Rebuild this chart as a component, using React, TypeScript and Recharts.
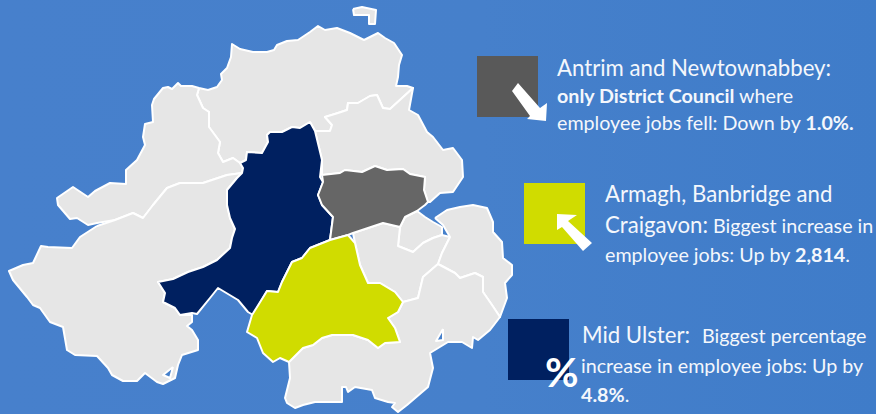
import React from 'react';
import { ScatterChart, Scatter, XAxis, YAxis } from 'recharts';

type Pt = [number, number];

// outlines, in picture units
const causeway: Pt[] = [[199,88],[208,90],[217,87],[222,80],[221,74],[227,68],[231,57],[232,44],[240,49],[253,52],[267,52],[274,50],[277,45],[287,41],[298,40],[310,32],[318,26],[325,30],[337,28],[350,33],[364,40],[378,33],[385,38],[394,43],[402,55],[399,65],[398,77],[396,86],[407,86],[413,88],[390,109],[383,108],[377,95],[370,96],[358,103],[348,103],[347,110],[338,113],[325,117],[332,125],[330,131],[315,131],[310,122],[300,128],[292,127],[282,132],[270,132],[267,135],[268,142],[262,153],[247,152],[246,160],[240,163],[233,158],[223,162],[218,153],[220,142],[209,127],[209,112],[203,108],[197,95]];
const derry: Pt[] = [[199,88],[192,86],[185,86],[181,86],[178,83],[175,86],[172,89],[168,87],[163,88],[154,99],[152,105],[153,122],[145,124],[143,137],[145,145],[137,160],[126,170],[126,184],[110,183],[95,191],[88,197],[73,187],[57,198],[58,205],[70,219],[77,218],[88,225],[97,223],[115,220],[133,213],[143,218],[153,205],[167,188],[180,183],[203,183],[227,175],[242,173],[243,168],[240,163],[233,158],[223,162],[218,153],[220,142],[209,127],[209,112],[203,108],[197,95]];
const fermanagh: Pt[] = [[97,226],[80,237],[72,248],[48,247],[41,246],[33,263],[23,265],[9,271],[13,280],[27,297],[33,305],[40,308],[50,322],[63,327],[67,350],[75,355],[97,356],[108,368],[112,375],[123,381],[137,381],[145,373],[157,382],[163,384],[175,378],[178,365],[182,355],[198,350],[198,340],[192,330],[187,326],[192,322],[192,315],[180,315],[175,308],[163,302],[165,293],[158,282],[173,279],[188,272],[203,267],[217,260],[230,248],[232,238],[235,229],[230,218],[227,205],[227,190],[237,178],[242,173],[227,175],[203,183],[180,183],[167,188],[153,205],[143,218],[133,213],[115,220]];
const midUlster: Pt[] = [[310,122],[315,131],[322,160],[320,177],[323,182],[318,195],[322,205],[333,217],[330,240],[310,248],[302,258],[292,262],[282,282],[278,292],[267,291],[253,315],[248,312],[238,300],[218,288],[210,298],[197,314],[192,313],[180,315],[175,308],[163,302],[165,293],[158,282],[173,279],[188,272],[203,267],[217,260],[230,248],[232,238],[235,229],[230,218],[227,205],[227,190],[237,178],[242,173],[243,168],[240,163],[246,160],[247,152],[262,153],[268,142],[267,135],[270,132],[282,132],[292,127],[300,128]];
const antrim: Pt[] = [[322,175],[340,173],[345,170],[362,172],[375,166],[387,170],[403,169],[410,174],[425,177],[424,190],[428,202],[425,205],[417,211],[405,217],[400,227],[383,223],[353,233],[348,235],[330,240],[333,217],[322,205],[318,195],[323,182]];
const midEast: Pt[] = [[315,131],[330,131],[332,125],[325,117],[338,113],[347,110],[348,103],[358,103],[370,96],[377,95],[383,108],[390,109],[413,88],[409,110],[418,115],[427,132],[433,137],[443,150],[453,148],[462,160],[463,177],[453,192],[440,193],[430,202],[428,202],[424,190],[425,177],[410,174],[403,169],[387,170],[375,166],[362,172],[345,170],[340,173],[322,175],[322,160]];
const belfast: Pt[] = [[400,227],[405,217],[417,211],[425,217],[433,222],[442,227],[442,235],[433,238],[423,243],[413,252],[398,246]];
const lisburn: Pt[] = [[353,233],[383,223],[400,227],[398,246],[413,252],[423,243],[433,238],[442,235],[450,237],[442,253],[438,264],[423,277],[418,298],[403,302],[395,292],[380,283],[368,283],[360,265],[355,243]];
const ards: Pt[] = [[435,218],[447,210],[460,207],[473,205],[487,208],[493,222],[493,232],[502,242],[503,258],[512,265],[512,275],[505,283],[507,298],[500,317],[492,305],[483,292],[483,277],[475,273],[460,278],[455,273],[438,264],[442,253],[450,237],[443,225]];
const newry: Pt[] = [[438,264],[455,273],[460,278],[475,273],[483,277],[483,292],[492,305],[500,317],[490,330],[478,340],[473,337],[472,348],[462,342],[448,342],[430,353],[433,368],[428,387],[407,405],[398,412],[392,407],[395,403],[388,402],[375,398],[372,390],[355,387],[348,392],[346,387],[342,387],[342,402],[315,402],[303,405],[295,408],[287,403],[285,398],[290,378],[289,362],[303,348],[313,345],[322,338],[332,335],[353,335],[368,340],[378,348],[385,343],[400,342],[395,328],[388,318],[398,312],[403,302],[418,298],[423,277]];
const abc: Pt[] = [[348,235],[355,243],[360,265],[368,283],[380,283],[395,292],[403,302],[398,312],[388,318],[395,328],[400,342],[385,343],[378,348],[368,340],[353,335],[332,335],[322,338],[313,345],[303,348],[289,362],[280,358],[273,362],[263,353],[257,338],[247,332],[252,315],[267,291],[278,292],[282,282],[292,262],[302,258],[310,248],[330,240]];
const rathlin: Pt[] = [[353,9],[362,7],[376,10],[375,24],[369,24],[369,15],[354,15]];
const inletEast: Pt[] = [[443,329],[436,341],[443,340]];
const inletWest: Pt[] = [[173,367],[163,375],[170,378]];

const squareAntrim: Pt[] = [[477,56],[538,56],[538,117],[477,117]];
const squareAbc: Pt[] = [[524,183],[585,183],[585,244],[524,244]];
const squareUlster: Pt[] = [[508,319],[569,319],[569,380],[508,380]];
const arrowDown: Pt[] = [[518,83],[540,108],[547,103],[546,121],[527,119],[530,116],[512,91]];
const arrowUp: Pt[] = [[557,214],[577,215],[568,221],[592,243],[583,251],[562,227],[557,230]];

const regions: { name: string; pts: Pt[]; fill: string }[] = [
  { name: 'causeway', pts: causeway, fill: '#e6e6e6' },
  { name: 'derry', pts: derry, fill: '#e6e6e6' },
  { name: 'fermanagh', pts: fermanagh, fill: '#e6e6e6' },
  { name: 'midEast', pts: midEast, fill: '#e6e6e6' },
  { name: 'belfast', pts: belfast, fill: '#e6e6e6' },
  { name: 'lisburn', pts: lisburn, fill: '#e6e6e6' },
  { name: 'ards', pts: ards, fill: '#e6e6e6' },
  { name: 'newry', pts: newry, fill: '#e6e6e6' },
  { name: 'rathlin', pts: rathlin, fill: '#e6e6e6' },
  { name: 'inletEast', pts: inletEast, fill: '#4680cb' },
  { name: 'inletWest', pts: inletWest, fill: '#4680cb' },
  { name: 'midUlster', pts: midUlster, fill: '#002060' },
  { name: 'antrim', pts: antrim, fill: '#666666' },
  { name: 'abc', pts: abc, fill: '#d0dc00' },
];

const keys: { name: string; pts: Pt[]; fill: string }[] = [
  { name: 'squareAntrim', pts: squareAntrim, fill: '#595959' },
  { name: 'squareAbc', pts: squareAbc, fill: '#d0dc00' },
  { name: 'squareUlster', pts: squareUlster, fill: '#002060' },
  { name: 'arrowDown', pts: arrowDown, fill: '#ffffff' },
  { name: 'arrowUp', pts: arrowUp, fill: '#ffffff' },
];

const toRows = (pts: Pt[]) => [...pts, pts[0]].map(([x, y]) => ({ x, y }));
const noDot = () => <g />;

const T: React.FC<{ x: number; y: number; children: React.ReactNode }> = ({ x, y, children }) => (
  <text x={x} y={y} fill="#f4f7fc" fontFamily="Lato" fontSize={19.7} xmlSpace="preserve">{children}</text>
);
const big = { fontSize: 22.2 };
const bold = { fontWeight: 700 };

export default function App() {
  return (
    <div style={{ position: 'absolute', left: 0, top: 0, width: 876, height: 414, overflow: 'hidden', background: 'linear-gradient(90deg, #4780cc 0%, #4680cb 55%, #3f7cc9 100%)' }}>
      <ScatterChart width={876} height={414} margin={{ top: 0, right: 0, bottom: 0, left: 0 }}>
        <XAxis type="number" dataKey="x" domain={[0, 876]} hide />
        <YAxis type="number" dataKey="y" domain={[0, 414]} reversed hide />
        {regions.map((r) => (
          <Scatter key={r.name} name={r.name} data={toRows(r.pts)} shape={noDot} isAnimationActive={false}
            line={{ fill: r.fill, stroke: '#ffffff', strokeWidth: 2, strokeLinejoin: 'round' }} />
        ))}
        {keys.map((r) => (
          <Scatter key={r.name} name={r.name} data={toRows(r.pts)} shape={noDot} isAnimationActive={false}
            line={{ fill: r.fill, stroke: 'none' }} />
        ))}
      </ScatterChart>
      <svg width={876} height={414} style={{ position: 'absolute', left: 0, top: 0 }}>
        <T x={557} y={76}><tspan style={big}>Antrim and Newtownabbey:</tspan></T>
        <T x={557} y={103}><tspan style={bold}>only District Council</tspan> where</T>
        <T x={557} y={130}>employee jobs fell: Down by <tspan style={bold}>1.0%.</tspan></T>
        <T x={605} y={202}><tspan style={big}>Armagh, Banbridge and</tspan></T>
        <T x={605} y={233}><tspan style={big}>Craigavon:</tspan> Biggest increase in</T>
        <T x={605} y={262}>employee jobs: Up by <tspan style={bold}>2,814</tspan>.</T>
        <T x={582} y={343}><tspan style={big}>Mid Ulster:</tspan></T>
        <T x={702} y={343}>Biggest percentage</T>
        <T x={581} y={373}>increase in employee jobs: Up by</T>
        <T x={581} y={402}><tspan style={bold}>4.8%</tspan>.</T>
        <text x={545} y={387} fill="#ffffff" fontFamily="Lato" fontWeight={700} fontSize={41}>%</text>
      </svg>
    </div>
  );
}
